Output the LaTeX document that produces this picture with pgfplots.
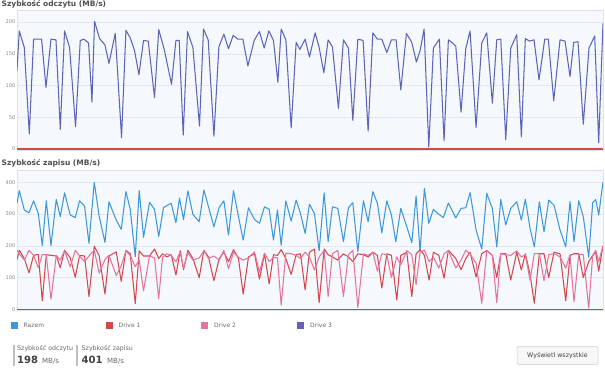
\documentclass[border=0pt]{standalone}
\usepackage{pgfplots}
\pgfplotsset{compat=1.18}
\usepackage{fontspec}
\setmainfont{DejaVu Sans}
\definecolor{cblue}{HTML}{3D98DB}
\definecolor{cred}{HTML}{D4474C}
\definecolor{cpink}{HTML}{E6739C}
\definecolor{cpurple}{HTML}{5D64B8}
\definecolor{plotbg}{HTML}{F5F9FD}
\definecolor{gridgray}{HTML}{E2E7ED}
\definecolor{axisgray}{HTML}{DCE3EB}
\definecolor{tickgray}{HTML}{8A8A8A}
\definecolor{titlegray}{HTML}{505050}
\definecolor{txtgray}{HTML}{6A6A6A}
\pgfplotsset{
  common/.style={
    scale only axis, width=586pt, height=140pt,
    xmin=16.7, xmax=603, xtick=\empty,
    axis background/.style={fill=plotbg},
    axis line style={draw=axisgray},
    ymajorgrids, grid style={draw=gridgray, line width=0.5pt},
    major tick length=0pt,
    yticklabel style={font=\fontsize{5.1}{6}\selectfont, text=tickgray, inner xsep=1.5pt},
    /pgf/number format/assume math mode=true,
    every axis plot/.append style={line width=1.05pt, mark=none, line join=round},
  }
}
\begin{document}
\begin{tikzpicture}[x=1pt,y=1pt]
\useasboundingbox (0,0) rectangle (605,370);
\fill[white] (0,0) rectangle (605,370);
% titles
\node[anchor=west, inner sep=0pt, text=titlegray, font=\bfseries\fontsize{7.5}{8}\selectfont] at (1.5,365.5) {Szybkość odczytu (MB/s)};
\node[anchor=west, inner sep=0pt, text=titlegray, font=\bfseries\fontsize{7.5}{8}\selectfont] at (1.5,206.7) {Szybkość zapisu (MB/s)};
% read chart
\begin{axis}[common, at={(17pt,220pt)}, anchor=south west, ymin=-1.6, ymax=219, ytick={0,50,100,150,200}]
\addplot[cpink] coordinates {(16.7,0)(603,0)};
\addplot[cred] coordinates {(16.7,0)(603,0)};
\addplot[cpurple] coordinates {(16.7,124)(19,186)(24,160)(29,24)(33.3,173)(37.3,173)(41.3,173)(45.7,97)(50.7,173)(55.7,172)(60,31)(64.3,186)(69.3,160)(75.3,35)(80,171)(83.7,173)(88.3,167)(91.7,74)(94.3,201)(99.3,174)(104.7,164)(108.7,135)(115,182)(121.3,18)(125.7,187)(130,175)(134.3,155)(138.7,117)(143.3,171)(148,170)(154.3,81)(158.5,188)(164,157)(167.3,132)(171.3,102)(175.7,171)(179,171)(183,22)(187.3,185)(192.7,160)(199.3,36)(203.3,189)(208,172)(213.7,20)(218.7,161)(223.7,181)(228.3,158)(233,179)(237.7,173)(242.7,173)(247.7,131)(254,171)(259.3,185)(264,159)(268.7,186)(273.3,171)(277.7,105)(281,189)(285.7,172)(291,33)(296,168)(299.7,157)(305,173)(309.3,145)(315,183)(319,160)(323.7,120)(328,172)(332.3,161)(338.3,64)(343.3,172)(348.3,159)(352.7,45)(357.7,173)(363,171)(368,28)(372.7,183)(377.3,173)(381.7,173)(386.7,152)(391.3,172)(396,172)(400.7,93)(406.3,182)(411.7,168)(416.3,137)(420,155)(424,189)(428.7,3)(433.3,159)(439.3,173)(444,13)(448.3,172)(453.3,166)(455.7,162)(461,58)(465.7,158)(470,186)(476,34)(481.7,167)(486.7,183)(492.3,72)(496.7,172)(500.7,173)(505.7,15)(510.7,159)(516.7,180)(521.3,19)(525.3,174)(529.3,170)(534,172)(539,109)(544.7,173)(548.3,173)(553.7,76)(560,172)(565,170)(570,114)(573.7,168)(578,169)(583.3,39)(589,159)(594.7,178)(598.7,10)(603,198)};
\end{axis}
% write chart
\begin{axis}[common, at={(17pt,60pt)}, anchor=south west, ymin=-2.2, ymax=439, ytick={0,100,200,300,400}]
\addplot[cpurple] coordinates {(16.7,0)(603,0)};
\addplot[cblue] coordinates {(16.7,334)(19,374)(24,313)(28.7,304)(33.3,342)(38,302)(42,201)(46,342)(50.7,201)(56,346)(60,292)(64.3,367)(70,297)(75,289)(79.3,342)(84.3,325)(88.7,208)(94,400)(99,292)(104.7,211)(108.7,339)(116,281)(121,252)(125.7,371)(130,315)(135,166)(139,374)(143.3,227)(149.3,337)(154.3,315)(158.5,229)(163.3,321)(171,334)(175.7,273)(179.3,350)(183.3,283)(187.7,373)(192.7,299)(199,276)(203.7,376)(208.3,323)(213.7,260)(219,321)(223.7,342)(228.3,234)(233.3,374)(238.3,292)(243,218)(248.3,320)(254.3,283)(259.3,271)(264.3,323)(269,315)(273.3,218)(277.3,313)(281,202)(285.7,342)(291,278)(296,344)(300.3,302)(305,239)(309.3,331)(314.3,302)(319,184)(324,367)(328,213)(332.3,323)(337.7,318)(343.3,213)(348.3,320)(352.7,336)(357.7,182)(363.3,342)(368,276)(372.7,371)(377.3,334)(381.7,241)(386.7,342)(391.3,297)(395.7,213)(400.7,318)(406.7,260)(411.7,210)(416,357)(420,182)(424.3,381)(428.7,271)(433.3,315)(438.5,300)(443.3,289)(448.3,335)(455.7,288)(461,318)(465.7,320)(470,368)(476,250)(481.7,190)(486.7,365)(492.3,318)(496.7,197)(500.7,346)(505.7,266)(510.7,318)(516.7,339)(521.3,281)(525.3,347)(530,255)(534.3,197)(539.3,339)(544,244)(548.7,344)(554,328)(560,250)(565.7,197)(570,339)(574,213)(578.7,342)(583.3,292)(588.7,164)(592.7,336)(595.7,346)(598.7,297)(603,401)};
\addplot[cred] coordinates {(16.7,157)(19,186)(24,160)(28.7,115)(33.3,170)(38,173)(42,27)(46,172)(50.7,170)(56,168)(60,131)(64.3,186)(70,162)(75,101)(79.3,170)(84.3,168)(88.7,40)(94,199)(99,168)(104.7,48)(108.7,168)(116,181)(121,88)(125.7,186)(130,175)(135,18)(139,184)(143.3,168)(149.3,168)(154.3,190)(158.5,160)(162.3,175)(166.7,165)(171,172)(175.7,108)(180,185)(183.3,125)(187.7,186)(192.7,160)(199,100)(203.7,186)(208.3,165)(213.7,90)(219,160)(223.7,180)(228.3,150)(233.3,188)(238.3,160)(243,48)(248.3,165)(254.3,175)(259.3,95)(264.3,175)(269,80)(273.3,172)(277.3,170)(281,188)(285.7,160)(291,110)(296,172)(300.3,175)(305,61)(309.3,180)(314.3,190)(319,21)(324,190)(328,172)(332.3,165)(337.7,155)(343.3,175)(348.3,165)(352.7,150)(357.7,175)(363.3,172)(368,165)(372.7,180)(377.3,170)(381.7,67)(386.7,175)(391.3,170)(396.7,29)(400.7,170)(406.7,180)(411.7,40)(416,175)(420,188)(424.3,170)(429,92)(433.3,180)(438.7,170)(444,98)(448.3,186)(455.7,160)(461,125)(465.7,160)(470,180)(476,102)(481.7,175)(486.7,185)(492.3,170)(496.7,100)(500.7,175)(505.7,175)(510.7,92)(516.7,180)(521.3,124)(525.3,175)(530,110)(534.3,19)(539.3,175)(544,175)(548.7,100)(554,180)(560,175)(565.7,27)(570,170)(574,175)(578.7,175)(583.3,100)(588.7,150)(592.7,170)(595.7,180)(598.7,120)(603,200)};
\addplot[cpink] coordinates {(16.7,186)(19,175)(24,155)(28.7,186)(33.3,170)(38,131)(42,172)(46,172)(50.7,32)(56,170)(60,155)(64.3,184)(70,134)(75,186)(79.3,168)(84.3,150)(88.7,168)(94,186)(99,114)(104.7,157)(108.7,170)(116,107)(121,137)(125.7,184)(130,170)(135,134)(139,155)(143.3,58)(149.3,168)(154.3,162)(158.5,34)(162.3,164)(166.7,175)(171,170)(175.7,150)(180,181)(183.3,130)(187.7,178)(192.7,155)(199,162)(203.7,184)(208.3,160)(213.7,168)(219,155)(223.7,186)(228.3,128)(233.3,180)(238.3,164)(243,155)(248.3,162)(254.3,181)(259.3,117)(264.3,177)(269,150)(273.3,164)(277.3,162)(281,13)(285.7,177)(291,175)(296,170)(300.3,160)(305,180)(309.3,165)(314.3,124)(319,165)(324,186)(328,40)(332.3,175)(337.7,186)(343.3,40)(348.3,172)(352.7,186)(357.7,6)(363.3,175)(368,170)(372.7,180)(377.3,120)(381.7,175)(386.7,172)(391.3,100)(396.7,165)(400.7,140)(406.7,185)(411.7,172)(416,78)(420,180)(424.3,186)(429,150)(433.3,165)(438.7,130)(444,175)(448.3,185)(455.7,130)(461,155)(465.7,186)(470,175)(476,145)(481.7,19)(486.7,186)(492.3,170)(496.7,21)(500.7,176)(505.7,172)(510.7,170)(516.7,184)(521.3,165)(525.3,172)(530,92)(534.3,175)(539.3,176)(544,90)(548.7,172)(554,176)(560,165)(565.7,130)(570,172)(574,24)(578.7,172)(583.3,172)(588.7,4)(592.7,170)(595.7,186)(598.7,150)(603,200)};
\end{axis}
% legend
\fill[cblue] (11,41.5) rectangle (18,48.5);
\node[anchor=west, inner sep=0pt, text=txtgray, font=\fontsize{6}{7}\selectfont] at (23.5,45) {Razem};
\fill[cred] (106,41.5) rectangle (113,48.5);
\node[anchor=west, inner sep=0pt, text=txtgray, font=\fontsize{6}{7}\selectfont] at (118.5,45) {Drive 1};
\fill[cpink] (201,41.5) rectangle (208,48.5);
\node[anchor=west, inner sep=0pt, text=txtgray, font=\fontsize{6}{7}\selectfont] at (214,45) {Drive 2};
\fill[cpurple] (297,41.5) rectangle (304,48.5);
\node[anchor=west, inner sep=0pt, text=txtgray, font=\fontsize{6}{7}\selectfont] at (310,45) {Drive 3};
% stats
\fill[black!25] (12.5,4.5) rectangle (15,25.5);
\fill[black!25] (75.5,4.5) rectangle (78,25.5);
\node[anchor=west, inner sep=0pt, text=txtgray, font=\fontsize{6.3}{7}\selectfont] at (17,21.3) {Szybkość odczytu};
\node[anchor=west, inner sep=0pt, text=txtgray, font=\fontsize{6.3}{7}\selectfont] at (81.5,21.3) {Szybkość zapisu};
\node[anchor=base west, inner sep=0pt, text=black!75, font=\bfseries\fontsize{10}{11}\selectfont] at (17,6.7) {198};
\node[anchor=base west, inner sep=0pt, text=txtgray, font=\fontsize{7}{8}\selectfont] at (42,6.7) {MB/s};
\node[anchor=base west, inner sep=0pt, text=black!75, font=\bfseries\fontsize{10}{11}\selectfont] at (81.5,6.7) {401};
\node[anchor=base west, inner sep=0pt, text=txtgray, font=\fontsize{7}{8}\selectfont] at (107,6.7) {MB/s};
% button
\draw[draw=black!20, fill=black!3, rounded corners=1.5pt, line width=0.5pt] (517,5.5) rectangle (598,23.5);
\node[inner sep=0pt, text=black!75, font=\fontsize{6.3}{7}\selectfont] at (557.5,14.5) {Wyświetl wszystkie};
\end{tikzpicture}
\end{document}
